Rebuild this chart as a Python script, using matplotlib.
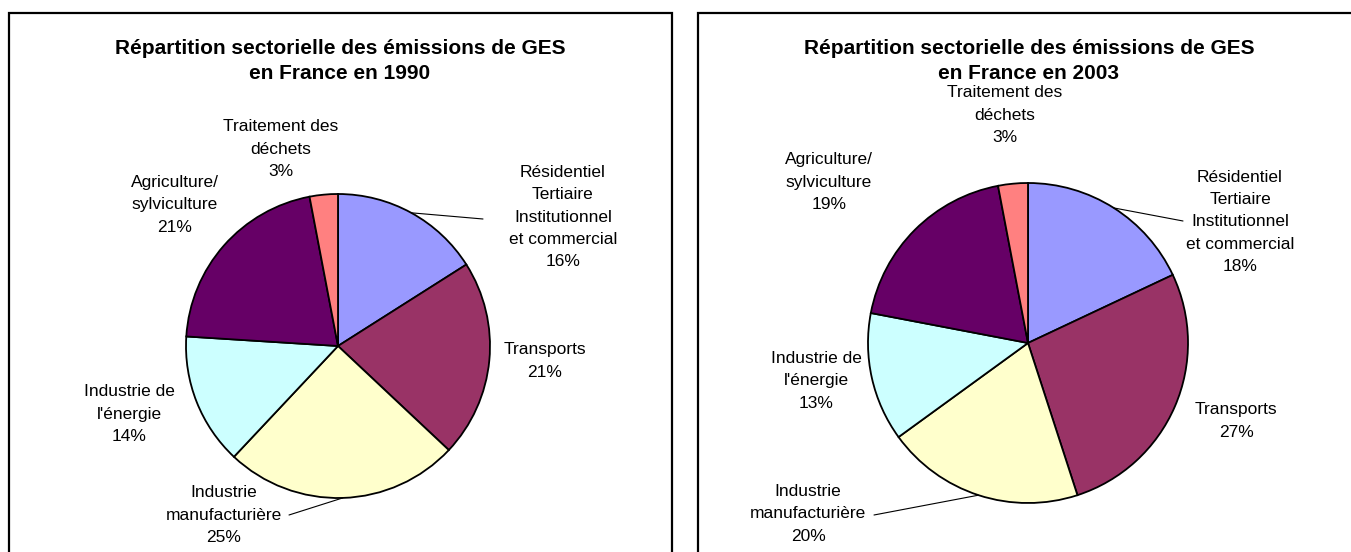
import numpy as np
import matplotlib
matplotlib.use("Agg")
import matplotlib.pyplot as plt
from matplotlib.patches import Rectangle

plt.rcParams['font.family'] = ['Liberation Sans', 'DejaVu Sans']

# donnees
secteurs = ["Résidentiel\nTertiaire\nInstitutionnel\net commercial", "Transports",
            "Industrie\nmanufacturière", "Industrie de\nl'énergie",
            "Agriculture/\nsylviculture", "Traitement des\ndéchets"]
parts_1990 = [16, 21, 25, 14, 21, 3]
parts_2003 = [18, 27, 20, 13, 19, 3]
annees = ["1990", "2003"]
couleurs = ["#9999FF", "#993366", "#FFFFCC", "#CCFFFF", "#660066", "#FF8080"]

W, H = 1351, 552
fig = plt.figure(figsize=(W / 100, H / 100), dpi=100)

def fx(x):
    return x / W

def fy(y):
    return 1 - y / H

# mise en page (pixels)
cadres = [(9, 672), (698, 1361)]
centres = [(338, 346), (1028, 343)]
rayons = [152, 160]
titres_x = [340, 1029]
pos_labels = [
    [(563, 217), (545, 361), (224, 515), (129, 414), (175, 205), (281, 149)],
    [(1240, 222), (1236, 421), (808, 514), (816, 381), (829, 182), (1005, 115)],
]
# fin des traits de rappel (index secteur -> point)
traits = [
    {0: (483, 219), 2: (289, 515)},
    {0: (1183, 221), 2: (874, 515)},
]

for k, parts in enumerate([parts_1990, parts_2003]):
    x0, x1 = cadres[k]
    fig.patches.append(Rectangle((fx(x0), fy(565)), (x1 - x0) / W, (565 - 13) / H,
                                 transform=fig.transFigure, fill=False,
                                 edgecolor="black", lw=1.6))
    fig.text(fx(titres_x[k]), fy(61), "Répartition sectorielle des émissions de GES\nen France en " + annees[k],
             ha="center", va="center", fontsize=15, fontweight="bold",
             linespacing=1.4, multialignment="center")

    cx, cy = centres[k]
    r = rayons[k]
    ax = fig.add_axes([fx(cx - r), fy(cy + r), 2 * r / W, 2 * r / H])
    wedges, _ = ax.pie(parts, colors=couleurs, startangle=90, counterclock=False,
                       radius=1, wedgeprops=dict(edgecolor="black", linewidth=1.3))
    ax.set_xlim(-1, 1)
    ax.set_ylim(-1, 1)
    ax.axis("off")

    for i, w in enumerate(wedges):
        lx, ly = pos_labels[k][i]
        fig.text(fx(lx), fy(ly), secteurs[i] + "\n" + str(parts[i]) + "%",
                 ha="center", va="center", fontsize=12.5, linespacing=1.6,
                 multialignment="center")
        if i in traits[k]:
            a = np.deg2rad((w.theta1 + w.theta2) / 2)
            ex, ey = traits[k][i]
            ax.annotate("", xy=(np.cos(a), np.sin(a)), xycoords="data",
                        xytext=(fx(ex), fy(ey)), textcoords="figure fraction",
                        arrowprops=dict(arrowstyle="-", lw=0.8, color="black",
                                        shrinkA=0, shrinkB=0))

fig.savefig("out.png", dpi=100)
